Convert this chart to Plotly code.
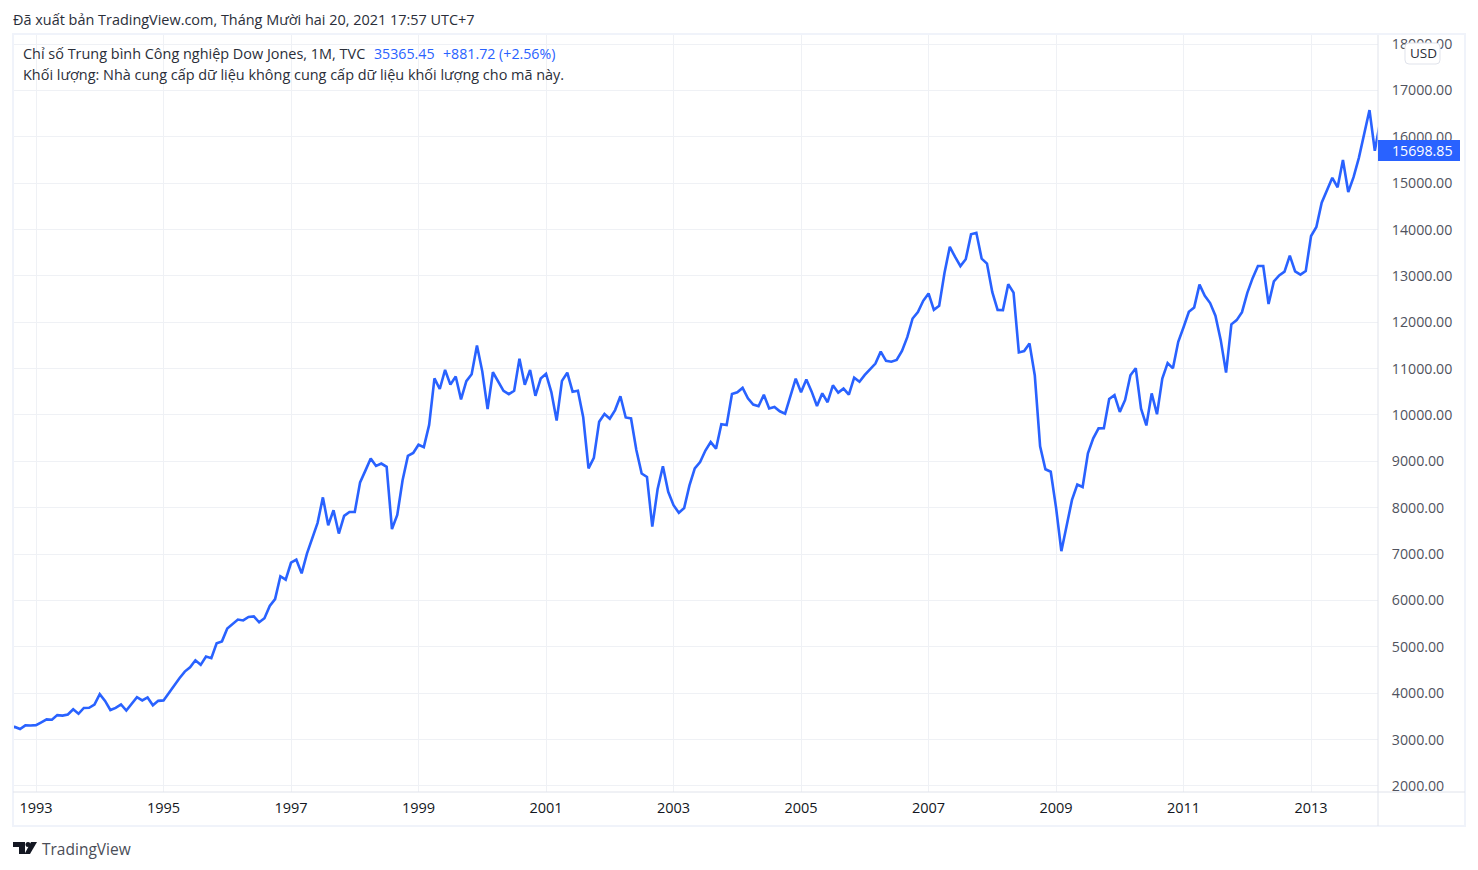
import pandas as pd
import plotly.graph_objects as go

months = pd.date_range("1992-08-01", "2014-02-01", freq="MS").strftime("%Y-%m").tolist()

closes = [
    3257, 3271, 3226, 3305, 3301,
    3310, 3371, 3435, 3428, 3527, 3516, 3539, 3651, 3555, 3681, 3684, 3754,
    3978, 3832, 3636, 3682, 3758, 3625, 3765, 3913, 3843, 3908, 3739, 3834,
    3844, 4011, 4158, 4321, 4465, 4556, 4708, 4611, 4789, 4755, 5074, 5117,
    5395, 5486, 5587, 5569, 5643, 5655, 5529, 5616, 5882, 6029, 6522, 6448,
    6813, 6878, 6583, 7009, 7331, 7673, 8223, 7622, 7945, 7442, 7823, 7908,
    7907, 8546, 8800, 9063, 8900, 8952, 8883, 7539, 7843, 8592, 9117, 9181,
    9359, 9307, 9786, 10789, 10560, 10971, 10655, 10829, 10337, 10730, 10878, 11497,
    10941, 10128, 10922, 10734, 10522, 10448, 10522, 11215, 10651, 10971, 10414, 10787,
    10887, 10495, 9879, 10735, 10912, 10502, 10523, 9950, 8848, 9075, 9852, 10022,
    9920, 10106, 10404, 9946, 9925, 9243, 8737, 8664, 7592, 8397, 8896, 8342,
    8054, 7891, 7992, 8480, 8850, 8985, 9234, 9416, 9275, 9801, 9782, 10454,
    10488, 10584, 10358, 10226, 10188, 10435, 10140, 10174, 10080, 10027, 10428, 10783,
    10490, 10766, 10504, 10193, 10467, 10275, 10641, 10482, 10569, 10440, 10806, 10718,
    10865, 10993, 11109, 11367, 11168, 11150, 11186, 11381, 11679, 12081, 12222, 12463,
    12622, 12269, 12354, 13063, 13628, 13409, 13212, 13358, 13896, 13930, 13372, 13265,
    12650, 12266, 12263, 12820, 12638, 11350, 11378, 11544, 10851, 9325, 8829, 8776,
    8001, 7063, 7609, 8168, 8500, 8447, 9172, 9496, 9712, 9713, 10345, 10428,
    10067, 10325, 10857, 11009, 10137, 9774, 10466, 10015, 10788, 11118, 11006, 11578,
    11892, 12226, 12320, 12811, 12570, 12414, 12143, 11614, 10913, 11955, 12046, 12218,
    12633, 12952, 13212, 13214, 12393, 12880, 13009, 13091, 13437, 13096, 13026, 13104,
    13861, 14054, 14579, 14840, 15116, 14910, 15500, 14810, 15130, 15546, 16086, 16577,
    15699, 16322,
]

year_ticks = ["1993", "1995", "1997", "1999", "2001", "2003", "2005", "2007", "2009", "2011", "2013"]
price_ticks = list(range(2000, 19000, 1000))
last_price = "15698.85"

BLUE = "#2962ff"
GRID = "#f0f3fa"
LINES = "#eff1f5"
EDGE = "#e0e3eb"
FONT = "Open Sans"

# plot area in page pixels
LEFT, RIGHT, TOP, BOTTOM = 13, 1378, 35, 792


def px(x):
    return (x - LEFT) / (RIGHT - LEFT)


def py(y):
    return (BOTTOM - y) / (BOTTOM - TOP)


def rect(x0, y0, x1, y1, **kw):
    return dict(type="rect", xref="paper", yref="paper", x0=px(x0), x1=px(x1), y0=py(y0), y1=py(y1), **kw)


def seg(x0, y0, x1, y1, color=EDGE, width=1):
    return dict(type="line", xref="paper", yref="paper", x0=px(x0), x1=px(x1), y0=py(y0), y1=py(y1),
                line=dict(color=color, width=width))


def poly(points, color="#131722"):
    d = "M" + " L".join(f"{px(a):.5f},{py(b):.5f}" for a, b in points) + " Z"
    return dict(type="path", xref="paper", yref="paper", path=d, fillcolor=color, line=dict(width=0))


def round_box(x0, y0, x1, y1, r=4):
    p = lambda a, b: f"{px(a):.5f},{py(b):.5f}"
    d = (f"M{p(x0 + r, y0)} L{p(x1 - r, y0)} Q{p(x1, y0)} {p(x1, y0 + r)} L{p(x1, y1 - r)} "
         f"Q{p(x1, y1)} {p(x1 - r, y1)} L{p(x0 + r, y1)} Q{p(x0, y1)} {p(x0, y1 - r)} "
         f"L{p(x0, y0 + r)} Q{p(x0, y0)} {p(x0 + r, y0)} Z")
    return dict(type="path", xref="paper", yref="paper", path=d, fillcolor="white", line=dict(color=EDGE, width=1))


def note(x, y, text, color="#2a2e39", size=14.45, **kw):
    # annotations carry 2px of padding on the left
    return dict(xref="paper", yref="paper", x=px(x - 2), y=py(y), text=text, showarrow=False, xanchor="left",
                yanchor="middle", font=dict(family=FONT, size=size, color=color), **kw)


fig = go.Figure(go.Scatter(x=months, y=closes, mode="lines", line=dict(color=BLUE, width=2.6), hoverinfo="skip"))

shapes = [
    # hides the lower edge of the 2000.00 label like the reference
    rect(1379, 791, 1464, 825, fillcolor="white", line=dict(width=0)),
    rect(13, 34, 1465, 826, line=dict(color=GRID, width=2), layer="above"),
    seg(13, 792, 1465, 792),
    seg(1378, 35, 1378, 826),
    # last price tag
    rect(1378, 140, 1460, 161, fillcolor=BLUE, line=dict(width=0)),
    round_box(1405, 43, 1440, 64),
    # logo
    poly([(13, 842), (25, 842), (25, 854), (19, 854), (19, 847), (13, 847)]),
    dict(type="circle", xref="paper", yref="paper", x0=px(25.5), x1=px(30.5), y0=py(842), y1=py(847),
         fillcolor="#131722", line=dict(width=0)),
    poly([(31, 842), (37, 842), (30, 854), (24.5, 854)]),
]

annotations = [
    note(13, 19.5, "Đã xuất bản TradingView.com, Tháng Mười hai 20, 2021 17:57 UTC+7"),
    note(23, 54, "Chỉ số Trung bình Công nghiệp Dow Jones, 1M, TVC"),
    note(374, 54, "35365.45", BLUE, size=14.2),
    note(443, 54, "+881.72 (+2.56%)", BLUE, size=14.2),
    note(23, 75, "Khối lượng: Nhà cung cấp dữ liệu không cung cấp dữ liệu khối lượng cho mã này."),
    note(1392, 150.5, last_price, "white", size=14.2),
    note(1410, 53, "USD", size=13.5),
    note(42, 849, "TradingView", "#4a4d57", size=15.5),
]

fig.update_layout(
    width=1478, height=870,
    margin=dict(l=LEFT, r=1478 - RIGHT, t=TOP, b=870 - BOTTOM, pad=0),
    paper_bgcolor="white", plot_bgcolor="white",
    showlegend=False,
    shapes=shapes, annotations=annotations,
    font=dict(family=FONT),
)
fig.update_xaxes(
    type="category", categoryorder="array", categoryarray=months,
    range=[0.67, 257.6],
    tickmode="array", tickvals=[y + "-01" for y in year_ticks], ticktext=year_ticks,
    showgrid=True, gridcolor=LINES, gridwidth=1, zeroline=False, showline=False,
    ticks="outside", ticklen=3, tickcolor="rgba(0,0,0,0)",
    tickfont=dict(family=FONT, size=14.5, color="#131722"),
)
fig.update_yaxes(
    side="right", range=[1868, 18196],
    tickmode="array", tickvals=price_ticks, tickformat=".2f",
    showgrid=True, gridcolor=LINES, gridwidth=1, zeroline=False, showline=False,
    ticks="outside", ticklen=10, tickcolor="rgba(0,0,0,0)",
    tickfont=dict(family=FONT, size=14.2, color="#50535e"),
)

fig.write_html("out.html", config=dict(displayModeBar=False),
               post_script="document.body.style.margin='0';")
